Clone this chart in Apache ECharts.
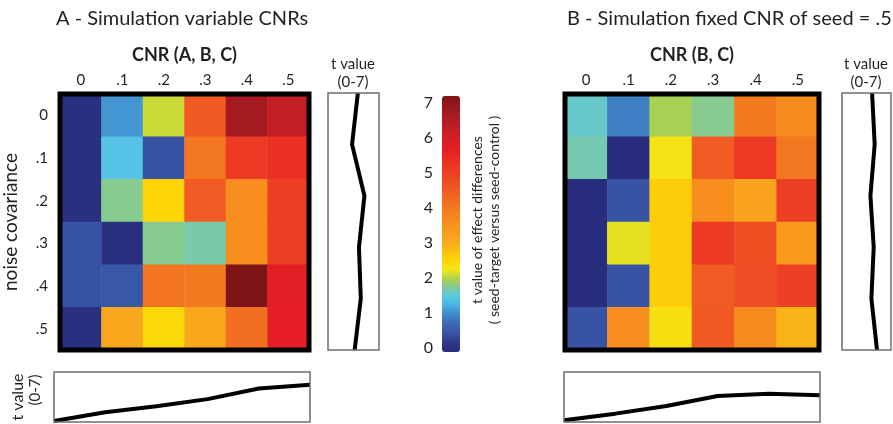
<!DOCTYPE html>
<html>
<head>
<meta charset="utf-8">
<script src="https://cdn.jsdelivr.net/npm/echarts/dist/echarts.min.js"></script>
<style>
  html, body { margin: 0; padding: 0; background: #fff; }
  #main { width: 893px; height: 424px; }
</style>
</head>
<body>
<div id="main"></div>
<script>
var cnrLabels = ['0', '.1', '.2', '.3', '.4', '.5'];
var noiseLabels = ['0', '.1', '.2', '.3', '.4', '.5'];

// t values, one row per noise covariance level, columns = CNR
var heatA = [
    [0.1, 1.1, 2.1, 4.45, 6.5, 6.1],
    [0.1, 1.45, 0.5, 3.95, 5.0, 5.2],
    [0.1, 1.8, 2.5, 4.4, 3.55, 4.9],
    [0.5, 0.1, 1.8, 1.72, 3.55, 4.9],
    [0.5, 0.55, 4.0, 3.9, 7.0, 5.55],
    [0.1, 3.05, 2.45, 3.05, 4.1, 5.5]
];
var heatB = [
    [1.6, 0.95, 1.97, 1.8, 3.9, 3.6],
    [1.7, 0.05, 2.3, 4.4, 5.0, 3.95],
    [0.05, 0.5, 2.6, 3.55, 3.1, 4.9],
    [0.05, 2.2, 2.6, 5.0, 4.6, 3.3],
    [0.05, 0.5, 2.6, 4.4, 4.65, 4.9],
    [0.5, 3.55, 2.35, 4.45, 3.6, 2.9]
];
var sideA = [4.1, 3.3, 5.0, 4.25, 4.5, 3.66];
var bottomA = [0.14, 1.37, 2.2, 3.2, 4.7, 5.2];
var sideB = [4.3, 4.67, 4.06, 4.53, 4.2, 5.0];
var bottomB = [0.23, 1.17, 2.24, 3.64, 3.97, 3.73];

// colour stops every 0.25 from 0 to 7
var cmap = ['#272b7b', '#2d3887', '#3953a4', '#3b67b1', '#3f86c8', '#48aee0', '#58c7e7',
    '#7ec9a3', '#aed14a', '#f4e619', '#fdd506', '#fcc00f', '#f9aa1c', '#f89c1d', '#f7911e',
    '#f5831f', '#f37421', '#f16522', '#f05623', '#ee4723', '#ed3a24', '#ea2d24', '#e51f25',
    '#da1e25', '#c81f26', '#b71d24', '#a51b21', '#93181c', '#7e1416'];

function toCells(rows) {
    var out = [];
    rows.forEach(function (row, r) {
        row.forEach(function (v, c) { out.push([c, r, v]); });
    });
    return out;
}

var FONT = 'Lato';
var txt = '#231f20';

var myChart = echarts.init(document.getElementById('main'));

var heatGrid = { show: true, borderColor: '#000', borderWidth: 5, backgroundColor: 'transparent', z: 10 };
var boxGrid = { show: true, borderColor: '#6d6e71', borderWidth: 1.5, backgroundColor: 'transparent', z: 10 };

function catX(name, idx) {
    return {
        type: 'category', gridIndex: idx, data: cnrLabels, position: 'top',
        name: name, nameLocation: 'middle', nameGap: 30,
        nameTextStyle: { fontFamily: FONT, fontSize: 18, fontWeight: 'bold', color: txt },
        axisLine: { show: false }, axisTick: { show: false },
        axisLabel: { fontFamily: FONT, fontSize: 15, color: txt, margin: 6 }
    };
}

function label(x, y, text, size, rot) {
    return {
        type: 'text', x: x, y: y, rotation: rot ? Math.PI / 2 : 0,
        style: { text: text, fontFamily: FONT, fontSize: size, fill: txt, align: 'center', verticalAlign: 'middle' }
    };
}

var option = {
    animation: false,
    textStyle: { fontFamily: FONT },
    title: [
        { text: 'A - Simulation variable CNRs', left: 51, top: 4,
          textStyle: { fontFamily: FONT, fontSize: 20, fontWeight: 'normal', color: txt } },
        { text: 'B - Simulation fixed CNR of seed = .5', left: 562, top: 4,
          textStyle: { fontFamily: FONT, fontSize: 20, fontWeight: 'normal', color: txt } }
    ],
    grid: [
        Object.assign({ left: 56, top: 94, width: 253, height: 256 }, heatGrid),   // 0 heat A
        Object.assign({ left: 565, top: 94, width: 254, height: 256 }, heatGrid),  // 1 heat B
        Object.assign({ left: 328, top: 93, width: 51, height: 257 }, boxGrid),    // 2 side A
        Object.assign({ left: 842, top: 93, width: 49, height: 257 }, boxGrid),    // 3 side B
        Object.assign({ left: 54, top: 372, width: 256, height: 50 }, boxGrid),    // 4 bottom A
        Object.assign({ left: 564, top: 372, width: 256, height: 50 }, boxGrid),   // 5 bottom B
        { left: 442, top: 103, width: 18, height: 245, show: false }               // 6 colorbar ticks
    ],
    xAxis: [
        catX('CNR (A, B, C)', 0),
        catX('CNR (B, C)', 1),
        { type: 'value', gridIndex: 2, min: 0, max: 7, show: false },
        { type: 'value', gridIndex: 3, min: 0, max: 7, show: false },
        { type: 'category', gridIndex: 4, data: cnrLabels, boundaryGap: false, show: false },
        { type: 'category', gridIndex: 5, data: cnrLabels, boundaryGap: false, show: false },
        { type: 'value', gridIndex: 6, show: false }
    ],
    yAxis: [
        {
            type: 'category', gridIndex: 0, data: noiseLabels, inverse: true,
            name: 'noise covariance', nameLocation: 'middle', nameGap: 40, nameRotate: 90,
            nameTextStyle: { fontFamily: FONT, fontSize: 19, color: txt },
            axisLine: { show: false }, axisTick: { show: false },
            axisLabel: { fontFamily: FONT, fontSize: 15, color: txt, margin: 12 }
        },
        { type: 'category', gridIndex: 1, data: noiseLabels, inverse: true, show: false },
        { type: 'category', gridIndex: 2, data: noiseLabels, inverse: true, boundaryGap: false, show: false },
        { type: 'category', gridIndex: 3, data: noiseLabels, inverse: true, boundaryGap: false, show: false },
        { type: 'value', gridIndex: 4, min: 0, max: 7, show: false },
        { type: 'value', gridIndex: 5, min: 0, max: 7, show: false },
        {
            type: 'value', gridIndex: 6, min: 0, max: 7, interval: 1,
            axisLine: { show: false }, axisTick: { show: false }, splitLine: { show: false },
            axisLabel: { fontFamily: FONT, fontSize: 16, color: txt, margin: 9 }
        }
    ],
    visualMap: {
        type: 'continuous', min: 0, max: 7, seriesIndex: [0, 1],
        left: 442, top: 96, itemWidth: 18, itemHeight: 256, padding: 0,
        calculable: false, hoverLink: false, text: null, showLabel: false,
        inRange: { color: cmap }
    },
    series: [
        { type: 'heatmap', xAxisIndex: 0, yAxisIndex: 0, data: toCells(heatA), emphasis: { disabled: true } },
        { type: 'heatmap', xAxisIndex: 1, yAxisIndex: 1, data: toCells(heatB), emphasis: { disabled: true } },
        { type: 'line', xAxisIndex: 2, yAxisIndex: 2, data: sideA, symbol: 'none', lineStyle: { color: '#000', width: 4 } },
        { type: 'line', xAxisIndex: 3, yAxisIndex: 3, data: sideB, symbol: 'none', lineStyle: { color: '#000', width: 4 } },
        { type: 'line', xAxisIndex: 4, yAxisIndex: 4, data: bottomA, symbol: 'none', lineStyle: { color: '#000', width: 4 } },
        { type: 'line', xAxisIndex: 5, yAxisIndex: 5, data: bottomB, symbol: 'none', lineStyle: { color: '#000', width: 4 } }
    ],
    graphic: [
        label(353, 64, 't value', 15),
        label(353, 82, '(0-7)', 15),
        label(866, 64, 't value', 15),
        label(866, 82, '(0-7)', 15),
        label(18, 397, 't value', 16, true),
        label(35, 390, '(0-7)', 15, true),
        label(477, 220, 't value of effect differences', 14, true),
        label(494, 220, '( seed-target versus seed-control )', 14, true)
    ]
};

myChart.setOption(option);
</script>
</body>
</html>
